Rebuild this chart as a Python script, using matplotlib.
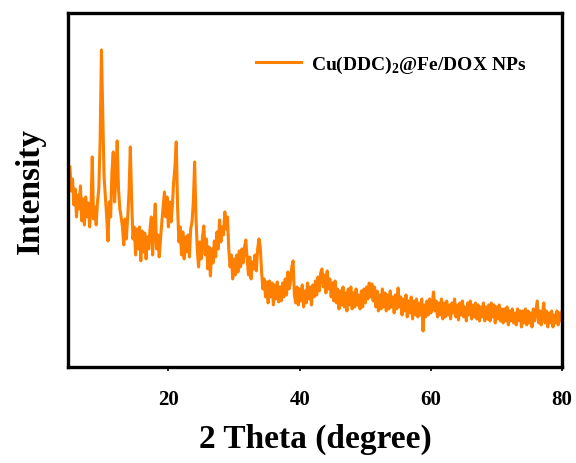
import numpy as np
import matplotlib
matplotlib.use("Agg")
import matplotlib.pyplot as plt

plt.rcParams['font.family'] = 'serif'
plt.rcParams['font.serif'] = ['Liberation Serif', 'DejaVu Serif']
plt.rcParams['font.weight'] = 'bold'
plt.rcParams['mathtext.fontset'] = 'custom'
plt.rcParams['mathtext.rm'] = 'Liberation Serif:bold'
plt.rcParams['mathtext.bf'] = 'Liberation Serif:bold'

# 2 theta grid (step 0.2 deg, 5 -> 80)
two_theta = np.round(np.arange(5.0, 80.001, 0.2), 2)

# intensity (a.u.), one row = 2 degrees
intensity = [
    200, 176, 188, 162, 178, 150, 172, 158, 181, 146,   # 5.0 - 6.8
    168, 142, 170, 150, 164, 140, 158, 210, 148, 160,   # 7.0 - 8.8
    142, 165, 178, 226, 317, 252, 190, 170, 150, 126,   # 9.0 - 10.8
    165, 150, 195, 215, 165, 190, 226, 178, 158, 150,   # 11.0 - 12.8
    140, 122, 148, 128, 150, 175, 220, 168, 128, 140,   # 13.0 - 14.8
    112, 138, 118, 140, 106, 136, 115, 134, 108, 130,   # 15.0 - 16.8
    118, 138, 150, 112, 140, 163, 118, 132, 110, 128,   # 17.0 - 18.8
    145, 160, 175, 150, 170, 140, 165, 145, 160, 185,   # 19.0 - 20.8
    200, 225, 160, 125, 140, 112, 135, 108, 130, 115,   # 21.0 - 22.8
    132, 110, 138, 145, 165, 205, 150, 118, 100, 125,   # 23.0 - 24.8
    108, 130, 141, 112, 128, 98, 120, 91, 118, 104,     # 25.0 - 26.8
    126, 110, 135, 118, 147, 125, 140, 132, 155, 138,   # 27.0 - 28.8
    150, 118, 100, 112, 88, 108, 92, 112, 95, 116,      # 29.0 - 30.8
    100, 118, 104, 120, 127, 108, 92, 110, 88, 105,     # 31.0 - 32.8
    98, 112, 96, 118, 128, 120, 95, 78, 88, 70,         # 33.0 - 34.8
    85, 64, 86, 70, 84, 62, 82, 68, 85, 65,             # 35.0 - 36.8
    80, 66, 84, 70, 88, 72, 95, 78, 85, 100,            # 37.0 - 38.8
    106, 72, 64, 80, 62, 78, 66, 82, 60, 76,            # 39.0 - 40.8
    64, 84, 68, 80, 62, 82, 70, 86, 72, 90,             # 41.0 - 42.8
    76, 94, 98, 80, 92, 74, 96, 78, 88, 70,             # 43.0 - 44.8
    84, 66, 86, 64, 78, 58, 76, 62, 80, 60,             # 45.0 - 46.8
    74, 56, 78, 62, 80, 58, 74, 60, 78, 62,             # 47.0 - 48.8
    72, 58, 76, 60, 78, 64, 80, 68, 84, 70,             # 49.0 - 50.8
    83, 66, 80, 60, 76, 56, 72, 58, 78, 60,             # 51.0 - 52.8
    74, 56, 72, 58, 76, 60, 70, 54, 72, 58,             # 53.0 - 54.8
    79, 60, 70, 52, 68, 56, 72, 50, 66, 54,             # 55.0 - 56.8
    70, 48, 66, 52, 68, 50, 64, 52, 68, 36,             # 57.0 - 58.8
    62, 50, 66, 52, 68, 54, 64, 75, 56, 66,             # 59.0 - 60.8
    50, 64, 52, 68, 48, 64, 50, 66, 52, 62,             # 61.0 - 62.8
    48, 64, 54, 68, 50, 62, 47, 64, 52, 66,             # 63.0 - 64.8
    50, 60, 46, 64, 52, 66, 48, 62, 50, 64,             # 65.0 - 66.8
    48, 62, 46, 60, 50, 64, 46, 60, 48, 62,             # 67.0 - 68.8
    46, 64, 50, 62, 44, 60, 48, 62, 46, 58,             # 69.0 - 70.8
    44, 58, 46, 60, 42, 56, 46, 58, 44, 54,             # 71.0 - 72.8
    42, 58, 46, 56, 40, 56, 44, 58, 42, 56,             # 73.0 - 74.8
    44, 54, 40, 58, 46, 56, 66, 44, 56, 42,             # 75.0 - 76.8
    54, 64, 44, 56, 40, 54, 44, 56, 40, 52,             # 77.0 - 78.8
    44, 56, 42, 54, 46, 56,                             # 79.0 - 80.0
]

fig = plt.figure(figsize=(5.76, 4.64), dpi=100)
ax = fig.add_axes([0.118, 0.207, 0.858, 0.763])

ax.plot(two_theta, intensity, color='#ff8000', lw=2.2,
        label=r'Cu(DDC)$_\mathbf{2}$@Fe/DOX NPs')

ax.set_xlim(4.7, 80)
ax.set_ylim(0, 354)
ax.set_xticks([20, 40, 60, 80])
ax.set_yticks([])
ax.tick_params(axis='x', direction='out', length=3, width=1.2, labelsize=15, pad=13)
for s in ax.spines.values():
    s.set_linewidth(2.4)

ax.set_xlabel('2 Theta (degree)', fontsize=24, fontweight='bold', labelpad=10)
ax.set_ylabel('Intensity', fontsize=24, fontweight='bold', labelpad=16)

leg = ax.legend(loc='upper left', bbox_to_anchor=(0.345, 0.935), frameon=False,
                fontsize=14, handlelength=2.3, handletextpad=0.55)
for t in leg.get_texts():
    t.set_fontweight('bold')

fig.savefig('out.png', dpi=100)
